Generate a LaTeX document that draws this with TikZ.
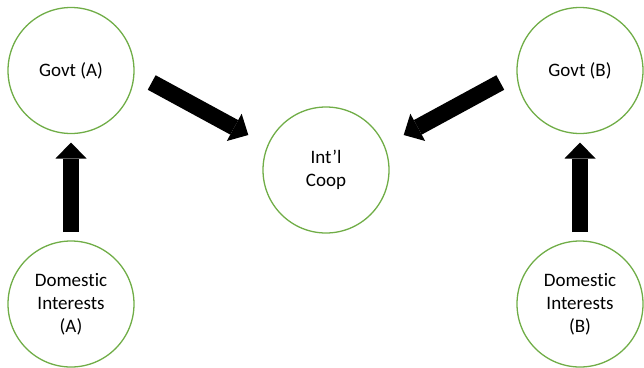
\documentclass[tikz,border=0pt]{standalone}
\usepackage{fontspec}
\setmainfont{Carlito}[Ligatures=NoCommon]
\usetikzlibrary{arrows.meta}
\definecolor{cgreen}{HTML}{70AD47}
\begin{document}
\begin{tikzpicture}[x=1pt,y=-1pt,
  bubble/.style={circle, draw=cgreen, line width=1.3pt, minimum size=126pt, inner sep=0pt, outer sep=0pt, align=center, font=\fontsize{19}{23}\selectfont},
  blockarrow/.style={line width=16.5pt, line cap=butt, black, -{Triangle[width=31pt,length=16pt,line width=0pt]}}]
\useasboundingbox (0,0) rectangle (644,367);
\node[bubble] (ga) at (71,70.5) {Govt (A)};
\node[bubble] (gb) at (580,70.5) {Govt (B)};
\node[bubble] (coop) at (326,170) {Int’l\\Coop};
\node[bubble] (da) at (71,304) {Domestic\\Interests\\(A)};
\node[bubble] (db) at (580,304) {Domestic\\Interests\\(B)};
\coordinate (a1) at (151.7,82.5);
\coordinate (a2) at (248.3,135);
\coordinate (b1) at (500.3,82.5);
\coordinate (b2) at (403.7,135);
\draw[blockarrow, shorten <=9pt, shorten >=9pt] (da) -- (ga);
\draw[blockarrow, shorten <=9pt, shorten >=9pt] (db) -- (gb);
\draw[blockarrow] (a1) -- (a2);
\draw[blockarrow] (b1) -- (b2);
\end{tikzpicture}
\end{document}
